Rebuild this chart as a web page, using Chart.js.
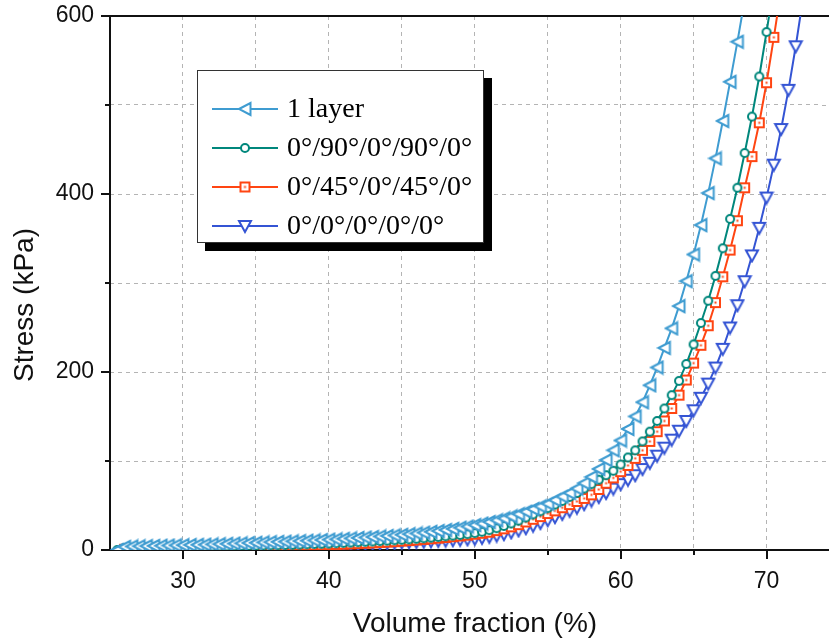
<!DOCTYPE html>
<html>
<head>
<meta charset="utf-8">
<script src="https://cdn.jsdelivr.net/npm/chart.js@4.4.0/dist/chart.umd.min.js"></script>
<style>
    html, body { margin: 0; padding: 0; background: #fff; }
    #wrap { width: 829px; height: 640px; }
</style>
</head>
<body>
<div id="wrap"><canvas id="stress-chart" width="829" height="640"></canvas></div>
<script>
// DATA

const volumeFraction = [
    25.5, 26, 26.5, 27, 27.5, 28, 28.5, 29, 29.5, 30,
    30.5, 31, 31.5, 32, 32.5, 33, 33.5, 34, 34.5, 35,
    35.5, 36, 36.5, 37, 37.5, 38, 38.5, 39, 39.5, 40,
    40.5, 41, 41.5, 42, 42.5, 43, 43.5, 44, 44.5, 45,
    45.5, 46, 46.5, 47, 47.5, 48, 48.5, 49, 49.5, 50,
    50.5, 51, 51.5, 52, 52.5, 53, 53.5, 54, 54.5, 55,
    55.5, 56, 56.5, 57, 57.5, 58, 58.5, 59, 59.5, 60,
    60.5, 61, 61.5, 62, 62.5, 63, 63.5, 64, 64.5, 65,
    65.5, 66, 66.5, 67, 67.5, 68, 68.5, 69, 69.5, 70,
    70.5, 71, 71.5, 72, 72.5
];

const oneLayer = [
    0, 3.5, 4, 4.2, 4.4, 4.6, 4.8, 5, 5.2, 5.4,
    5.6, 5.8, 6, 6.3, 6.6, 6.9, 7.2, 7.5, 7.8, 8.1,
    8.5, 8.8, 9.1, 9.4, 9.7, 10, 10.4, 10.8, 11.2, 11.6,
    12, 12.5, 13, 13.5, 14, 14.6, 15.2, 15.8, 16.4, 17,
    17.8, 18.6, 19.5, 20.4, 21.4, 22.5, 23.7, 25, 26.4, 28,
    29.7, 31.5, 33.4, 35.5, 37.8, 40.3, 43, 46, 49, 52,
    56, 60, 64, 69, 75, 82, 91, 101, 112, 123,
    136, 150, 166, 185, 205, 227, 249, 274, 302, 332,
    365, 401, 440, 482, 526, 571, 618
];

const cross90 = [
    0, 2, 2.4, 2.6, 2.8, 3, 3.1, 3.2, 3.3, 3.4,
    3.5, 3.6, 3.7, 3.8, 3.9, 4, 4.2, 4.4, 4.6, 4.8,
    5, 5.2, 5.4, 5.6, 5.8, 6.1, 6.4, 6.7, 7, 7.3,
    7.6, 8, 8.4, 8.8, 9.2, 9.6, 10, 10.5, 11, 11.5,
    12, 12.6, 13.2, 13.9, 14.6, 15.4, 16.2, 16.8, 17.8, 19,
    20.5, 22.3, 24.5, 27, 29.8, 33, 36.5, 40, 43.5, 47,
    51, 55, 59.5, 64, 69, 74, 79, 84, 89, 96,
    104, 112, 122, 133, 145, 159, 174, 190, 209, 231,
    255, 280, 308, 339, 372, 407, 446, 487, 532, 582,
    635
];

const cross45 = [
    null, 0.8, 1.5, 1.8, 2, 2.2, 2.3, 2.4, 2.5, 2.6,
    2.7, 2.8, 2.9, 3, 3.1, 3.2, 3.4, 3.6, 3.8, 4,
    4.2, 4.4, 4.6, 4.8, 5, 5.2, 5.4, 5.6, 5.8, 6,
    6.3, 6.6, 6.9, 7.2, 7.6, 8, 8.4, 8.9, 9.4, 10,
    10.6, 11.2, 11.9, 12.6, 13.3, 14.1, 14.9, 15.8, 16.7, 17.7,
    18.8, 20, 21.8, 23.8, 26, 28.5, 31.5, 34.5, 37.5, 41,
    44, 47.5, 51, 54.5, 58, 62, 68, 75, 81, 88,
    95, 103, 112, 122, 133, 145, 159, 174, 191, 210,
    230, 252, 278, 307, 337, 370, 407, 442, 480, 525,
    576, 630
];

const aligned0 = [
    null, null, null, null, null, null, null, 0.8, 1.5, 2,
    2.1, 2.2, 2.3, 2.4, 2.5, 2.6, 2.7, 2.8, 2.9, 3,
    3.2, 3.4, 3.6, 3.8, 4, 4.3, 4.6, 4.9, 5.2, 5.5,
    5.8, 6.1, 6.4, 6.7, 7, 7.3, 7.6, 7.9, 8.2, 8.5,
    8.8, 9.1, 9.4, 9.8, 10.2, 10.6, 11, 11.5, 12, 12.6,
    13.6, 14.8, 16.2, 17.8, 19.8, 22, 24.5, 27.3, 30.3, 33.5,
    37, 40.5, 44, 47.5, 51.5, 55.5, 59.5, 64, 69, 74,
    79, 84, 91, 98, 106, 115, 124, 134, 145, 157,
    171, 187, 205, 226, 250, 275, 302, 331, 362, 396,
    433, 473, 517, 566, 620
];

const seriesNames = ["1 layer", "0°/90°/0°/90°/0°", "0°/45°/0°/45°/0°", "0°/0°/0°/0°/0°"];
const seriesColors = ["#3f9cd1", "#00877c", "#ff4512", "#3454d4"];

const xMajorTicks = [30, 40, 50, 60, 70];
const xMinorTicks = [35, 45, 55, 65];
const yMajorTicks = [0, 200, 400, 600];
const yMinorTicks = [100, 300, 500];

// MARKERS

function makeMarker(size, draw) {
    const c = document.createElement('canvas');
    c.width = size;
    c.height = size;
    const g = c.getContext('2d');
    g.lineWidth = 2;
    g.lineJoin = 'miter';
    draw(g, size);
    return c;
}

const leftTriangle = makeMarker(16, (g, s) => {
    g.beginPath();
    g.moveTo(2, 8);
    g.lineTo(13.5, 2);
    g.lineTo(13.5, 14);
    g.closePath();
    g.fillStyle = '#fff';
    g.fill();
    g.strokeStyle = seriesColors[0];
    g.stroke();
});

const openCircle = makeMarker(12, (g, s) => {
    g.beginPath();
    g.arc(6, 6, 4, 0, Math.PI * 2);
    g.fillStyle = '#fff';
    g.fill();
    g.strokeStyle = seriesColors[1];
    g.stroke();
});

const dotSquare = makeMarker(13, (g, s) => {
    g.fillStyle = '#fff';
    g.fillRect(2, 2, 9, 9);
    g.strokeStyle = seriesColors[2];
    g.strokeRect(2, 2, 9, 9);
    g.fillStyle = seriesColors[2];
    g.fillRect(5.5, 5.5, 2, 2);
});

const downTriangle = makeMarker(16, (g, s) => {
    g.beginPath();
    g.moveTo(2, 3);
    g.lineTo(14, 3);
    g.lineTo(8, 14);
    g.closePath();
    g.fillStyle = '#fff';
    g.fill();
    g.strokeStyle = seriesColors[3];
    g.stroke();
});

const markers = [leftTriangle, openCircle, dotSquare, downTriangle];

function toPoints(values) {
    const pts = [];
    values.forEach((v, i) => {
        if (v !== null) pts.push({x: volumeFraction[i], y: v});
    });
    return pts;
}

const allSeries = [oneLayer, cross90, cross45, aligned0];

const datasets = allSeries.map((values, i) => ({
    label: seriesNames[i],
    data: toPoints(values),
    borderColor: seriesColors[i],
    backgroundColor: '#fff',
    borderWidth: 2,
    pointStyle: markers[i],
    pointRadius: 5,
    tension: 0,
    fill: false
}));

// DECORATIONS (frame, ticks, titles, legend)

const decorations = {
    id: 'decorations',
    beforeDatasetsDraw(chart) {
        const {ctx, chartArea: a, scales: {x, y}} = chart;
        ctx.save();

        // carry the horizontal grid on to the right edge of the picture
        ctx.strokeStyle = '#b4b4b4';
        ctx.lineWidth = 1;
        ctx.setLineDash([4, 4]);
        ctx.beginPath();
        yMajorTicks.concat(yMinorTicks).forEach(v => {
            const py = Math.round(y.getPixelForValue(v)) + 0.5;
            ctx.moveTo(a.right, py);
            ctx.lineTo(chart.width, py);
        });
        ctx.stroke();
        ctx.setLineDash([]);

        ctx.strokeStyle = '#111';
        ctx.lineWidth = 2;
        ctx.beginPath();
        ctx.moveTo(a.left, a.top);
        ctx.lineTo(chart.width, a.top);
        ctx.moveTo(a.left, a.top - 1);
        ctx.lineTo(a.left, a.bottom);
        ctx.lineTo(chart.width, a.bottom);
        xMajorTicks.forEach(v => {
            const px = Math.round(x.getPixelForValue(v));
            ctx.moveTo(px, a.bottom);
            ctx.lineTo(px, a.bottom + 9);
        });
        xMinorTicks.forEach(v => {
            const px = Math.round(x.getPixelForValue(v));
            ctx.moveTo(px, a.bottom);
            ctx.lineTo(px, a.bottom + 5);
        });
        yMajorTicks.forEach(v => {
            const py = Math.round(y.getPixelForValue(v));
            ctx.moveTo(a.left, py);
            ctx.lineTo(a.left - 9, py);
        });
        yMinorTicks.forEach(v => {
            const py = Math.round(y.getPixelForValue(v));
            ctx.moveTo(a.left, py);
            ctx.lineTo(a.left - 5, py);
        });
        ctx.stroke();
        ctx.restore();
    },
    afterDraw(chart) {
        const {ctx} = chart;
        ctx.save();

        // axis titles
        ctx.fillStyle = '#111';
        ctx.font = '28px "Liberation Sans", Arial, sans-serif';
        ctx.textAlign = 'center';
        ctx.textBaseline = 'middle';
        ctx.fillText('Volume fraction (%)', 475, 624);
        ctx.translate(25, 305);
        ctx.rotate(-Math.PI / 2);
        ctx.fillText('Stress (kPa)', 0, 0);
        ctx.setTransform(1, 0, 0, 1, 0, 0);

        // legend box with shadow
        ctx.fillStyle = '#000';
        ctx.fillRect(205, 78, 287, 173);
        ctx.fillStyle = '#fff';
        ctx.fillRect(197, 70, 287, 173);
        ctx.strokeStyle = '#333';
        ctx.lineWidth = 1;
        ctx.strokeRect(197.5, 70.5, 286, 172);

        const rowY = [109, 148, 187, 226];
        ctx.font = '28px "Liberation Serif", "Times New Roman", serif';
        ctx.textAlign = 'left';
        ctx.textBaseline = 'middle';
        seriesNames.forEach((name, i) => {
            const yy = rowY[i];
            ctx.strokeStyle = seriesColors[i];
            ctx.lineWidth = 2;
            ctx.beginPath();
            ctx.moveTo(212, yy);
            ctx.lineTo(278, yy);
            ctx.stroke();
            const m = markers[i];
            ctx.drawImage(m, 245 - m.width / 2, yy - m.height / 2);
            ctx.fillStyle = '#000';
            ctx.fillText(name, 287, yy + 1);
        });
        ctx.restore();
    }
};

// CHART

const gridStyle = {
    color: '#b4b4b4',
    lineWidth: 1,
    drawTicks: false
};

function fixXAxis(scale) {
    scale.height = 90;
    scale.paddingLeft = 0;
    scale.paddingRight = 0;
}

function fixYAxis(scale) {
    scale.width = 110;
    scale.paddingTop = 0;
    scale.paddingBottom = 0;
}

const stressChart = new Chart(document.getElementById('stress-chart'), {
    type: 'line',
    data: {datasets: datasets},
    options: {
        responsive: false,
        animation: false,
        events: [],
        layout: {
            padding: {top: 16, right: 0, left: 0, bottom: 0}
        },
        scales: {
            x: {
                type: 'linear',
                min: 25,
                max: 73.8,
                afterFit: fixXAxis,
                grid: gridStyle,
                border: {display: false, dash: [4, 4]},
                ticks: {
                    stepSize: 5,
                    includeBounds: false,
                    padding: 18,
                    color: '#111',
                    font: {family: '"Liberation Sans", Arial, sans-serif', size: 23},
                    maxRotation: 0,
                    autoSkip: false,
                    callback: (v) => (v % 10 === 0 && v >= 30) ? String(v) : ''
                }
            },
            y: {
                min: 0,
                max: 600,
                afterFit: fixYAxis,
                grid: gridStyle,
                border: {display: false, dash: [4, 4]},
                ticks: {
                    stepSize: 100,
                    padding: 16,
                    color: '#111',
                    font: {family: '"Liberation Sans", Arial, sans-serif', size: 23},
                    callback: (v) => v % 200 === 0 ? String(v) : ''
                }
            }
        },
        plugins: {
            legend: {display: false},
            tooltip: {enabled: false}
        }
    },
    plugins: [decorations]
});
</script>
</body>
</html>
